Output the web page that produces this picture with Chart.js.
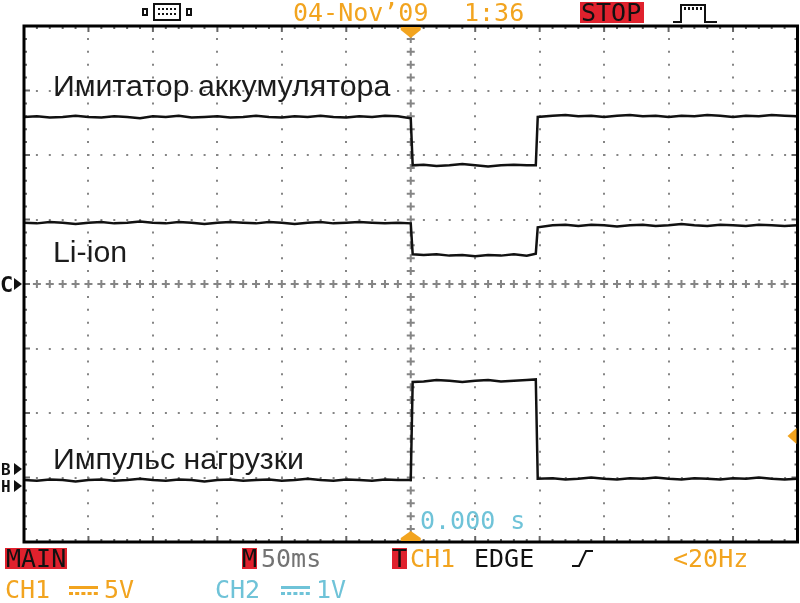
<!DOCTYPE html>
<html>
<head>
<meta charset="utf-8">
<script src="https://cdn.jsdelivr.net/npm/chart.js@4.4.0/dist/chart.umd.min.js"></script>
<style>
  html, body { margin: 0; padding: 0; background: #fff; }
  canvas { display: block; }
</style>
</head>
<body>
<canvas id="scope" width="800" height="603"></canvas>
<script>
// time axis: 50 ms/div, 12 div, trigger in the middle
const timeMin = -300;
const timeMax = 300;
const yMin = -4;
const yMax = 4;

// sample times (ms); duplicated edges give the step transitions
const times = [
  -300, -290, -280, -270, -260, -250, -240, -230, -220, -210,
  -200, -190, -180, -170, -160, -150, -140, -130, -120, -110,
  -100, -90, -80, -70, -60, -50, -40, -30, -20, -10, 0,
  1.5, 10, 20, 30, 40, 50, 60, 70, 80, 90, 97,
  98.5, 110, 120, 130, 140, 150, 160, 170, 180, 190,
  200, 210, 220, 230, 240, 250, 260, 270, 280, 290, 300
];

// trace levels in screen divisions from centre
const simulatorDiv = [
  2.59, 2.60, 2.58, 2.59, 2.61, 2.59, 2.58, 2.60, 2.59, 2.57,
  2.60, 2.59, 2.61, 2.58, 2.59, 2.60, 2.58, 2.59, 2.61, 2.59,
  2.58, 2.60, 2.59, 2.61, 2.59, 2.58, 2.60, 2.59, 2.61, 2.60, 2.57,
  1.84, 1.85, 1.83, 1.84, 1.86, 1.84, 1.82, 1.84, 1.85, 1.84, 1.84,
  2.59, 2.61, 2.62, 2.60, 2.61, 2.59, 2.61, 2.62, 2.60, 2.61,
  2.59, 2.61, 2.60, 2.62, 2.61, 2.59, 2.61, 2.60, 2.62, 2.61, 2.60
];
const liionDiv = [
  0.95, 0.94, 0.96, 0.95, 0.93, 0.95, 0.96, 0.94, 0.95, 0.97,
  0.95, 0.94, 0.96, 0.95, 0.93, 0.95, 0.96, 0.95, 0.94, 0.96,
  0.95, 0.93, 0.95, 0.96, 0.94, 0.95, 0.96, 0.95, 0.94, 0.95, 0.94,
  0.46, 0.45, 0.46, 0.44, 0.45, 0.43, 0.45, 0.44, 0.46, 0.44, 0.47,
  0.88, 0.91, 0.92, 0.90, 0.92, 0.91, 0.89, 0.91, 0.92, 0.90,
  0.91, 0.93, 0.91, 0.90, 0.92, 0.91, 0.90, 0.92, 0.91, 0.90, 0.91
];
const loadDiv = [
  -3.04, -3.05, -3.03, -3.04, -3.06, -3.04, -3.03, -3.05, -3.04, -3.02,
  -3.04, -3.05, -3.03, -3.04, -3.06, -3.04, -3.03, -3.05, -3.04, -3.03,
  -3.05, -3.04, -3.02, -3.04, -3.05, -3.03, -3.04, -3.05, -3.03, -3.04, -3.04,
  -1.52, -1.51, -1.49, -1.50, -1.52, -1.50, -1.49, -1.51, -1.50, -1.49, -1.48,
  -3.02, -3.01, -3.03, -3.02, -3.00, -3.02, -3.03, -3.01, -3.02, -3.00,
  -3.02, -3.03, -3.01, -3.02, -3.03, -3.01, -3.02, -3.00, -3.02, -3.03, -3.02
];

const traceLabels = ['Имитатор аккумулятора', 'Li-ion', 'Импульс нагрузки'];

const ORANGE = '#f2a41f';
const RED = '#e0212d';
const CYAN = '#6fc3d8';
const DOT = '#858585';
const MONO = "25px 'DejaVu Sans Mono', monospace";

function pts(vals) {
  return times.map((t, i) => ({ x: t, y: vals[i] }));
}

function gridColor(c) {
  const v = c.tick ? c.tick.value : 0;
  return (v === 0 || v === timeMin || v === timeMax || v === yMin || v === yMax) ? 'rgba(0,0,0,0)' : DOT;
}

function text(ctx, s, x, y, color, font) {
  ctx.fillStyle = color;
  ctx.font = font || MONO;
  ctx.textAlign = 'left';
  ctx.textBaseline = 'alphabetic';
  ctx.fillText(s, x, y);
}

function tri(ctx, p, color) {
  ctx.fillStyle = color;
  ctx.beginPath();
  ctx.moveTo(p[0], p[1]);
  for (let i = 2; i < p.length; i += 2) ctx.lineTo(p[i], p[i + 1]);
  ctx.closePath();
  ctx.fill();
}

function dcSymbol(ctx, x, y, color) {
  ctx.fillStyle = color;
  ctx.fillRect(x, y, 29, 3);
  for (let i = 0; i < 5; i++) ctx.fillRect(x + i * 6.2, y + 6, 4, 3);
}

const scopeDecor = {
  id: 'scopeDecor',
  beforeDatasetsDraw(chart) {
    const { ctx, chartArea: a, scales: { x, y } } = chart;
    const xc = x.getPixelForValue(0);
    const yc = y.getPixelForValue(0);
    ctx.save();
    // centre crosses
    ctx.strokeStyle = DOT;
    ctx.lineWidth = 2;
    ctx.beginPath();
    for (let k = 1; k < 40; k++) {
      const py = y.getPixelForValue(yMin + k * 0.2);
      ctx.moveTo(xc - 4, py); ctx.lineTo(xc + 4, py);
      ctx.moveTo(xc, py - 4); ctx.lineTo(xc, py + 4);
    }
    for (let k = 1; k < 60; k++) {
      const px = x.getPixelForValue(timeMin + k * 10);
      ctx.moveTo(px - 4, yc); ctx.lineTo(px + 4, yc);
      ctx.moveTo(px, yc - 4); ctx.lineTo(px, yc + 4);
    }
    ctx.stroke();
    // ticks on the frame
    ctx.strokeStyle = '#666';
    ctx.beginPath();
    for (let k = 1; k < 60; k++) {
      const px = x.getPixelForValue(timeMin + k * 10);
      const len = k % 5 === 0 ? 6 : 3;
      ctx.moveTo(px, a.top); ctx.lineTo(px, a.top + len);
      ctx.moveTo(px, a.bottom); ctx.lineTo(px, a.bottom - len);
    }
    for (let k = 1; k < 40; k++) {
      const py = y.getPixelForValue(yMin + k * 0.2);
      const len = k % 5 === 0 ? 6 : 3;
      ctx.moveTo(a.left, py); ctx.lineTo(a.left + len, py);
      ctx.moveTo(a.right, py); ctx.lineTo(a.right - len, py);
    }
    ctx.stroke();
    ctx.restore();
  },
  afterDraw(chart) {
    const { ctx, chartArea: a, scales: { x, y } } = chart;
    const xc = x.getPixelForValue(0);
    const yc = y.getPixelForValue(0);
    ctx.save();

    // frame
    ctx.strokeStyle = '#000';
    ctx.lineWidth = 3;
    ctx.strokeRect(a.left, a.top, a.right - a.left, a.bottom - a.top);

    // trace names
    const lf = "30.3px 'Liberation Sans', Arial, sans-serif";
    text(ctx, traceLabels[0], 53, 96, '#1c1c1c', lf);
    text(ctx, traceLabels[1], 53, 262, '#1c1c1c', lf);
    text(ctx, traceLabels[2], 53, 469, '#1c1c1c', lf);

    // trigger / position markers
    tri(ctx, [xc - 10, a.top + 1, xc + 10, a.top + 1, xc + 10, a.top + 4, xc, a.top + 12, xc - 10, a.top + 4], ORANGE);
    tri(ctx, [xc - 10, a.bottom - 1, xc + 10, a.bottom - 1, xc + 10, a.bottom - 4, xc, a.bottom - 11, xc - 10, a.bottom - 4], ORANGE);
    tri(ctx, [a.right - 1, 428, a.right - 1, 444, a.right - 10, 436], ORANGE);

    // channel markers on the left
    text(ctx, 'C', 0, yc + 8, '#111', "bold 22px 'DejaVu Sans Mono', monospace");
    tri(ctx, [14, yc - 6, 22, yc, 14, yc + 6], '#111');
    const mf = "bold 16px 'DejaVu Sans Mono', monospace";
    text(ctx, 'B', 1, 475, '#111', mf);
    tri(ctx, [14, 463, 22, 469, 14, 475], '#111');
    text(ctx, 'H', 1, 492, '#111', mf);
    tri(ctx, [14, 480, 22, 486, 14, 492], '#111');

    // trigger time readout
    text(ctx, '0.000 s', 420, 529, CYAN);

    // top status line
    ctx.strokeStyle = '#111';
    ctx.lineWidth = 2;
    ctx.strokeRect(143, 9, 4, 6);
    ctx.strokeRect(187, 9, 4, 6);
    ctx.strokeRect(154, 4, 26, 16);
    ctx.fillStyle = '#111';
    for (let i = 0; i < 5; i++) {
      ctx.fillRect(158 + i * 4, 8, 2, 2);
      ctx.fillRect(158 + i * 4, 13, 2, 2);
    }
    text(ctx, '04-Nov\u201909', 293, 21, ORANGE);
    text(ctx, '1:36', 464, 21, ORANGE);
    ctx.fillStyle = RED;
    ctx.fillRect(580, 2, 64, 21);
    text(ctx, 'STOP', 581, 21, '#111');
    ctx.strokeStyle = '#111';
    ctx.lineWidth = 2;
    ctx.beginPath();
    ctx.moveTo(673, 22); ctx.lineTo(681, 22); ctx.lineTo(681, 5);
    ctx.lineTo(705, 5); ctx.lineTo(705, 22); ctx.lineTo(717, 22);
    ctx.stroke();
    ctx.fillStyle = '#111';
    for (let i = 0; i < 6; i++) ctx.fillRect(684 + i * 4, 7, 2, 3);

    // bottom status line
    ctx.fillStyle = RED;
    ctx.fillRect(5, 548, 62, 21);
    text(ctx, 'MAIN', 6, 567, '#111');
    ctx.fillStyle = RED;
    ctx.fillRect(242, 548, 15, 21);
    text(ctx, 'M', 242, 567, '#111');
    text(ctx, '50ms', 261, 567, '#737373');
    ctx.fillStyle = RED;
    ctx.fillRect(392, 548, 15, 21);
    text(ctx, 'T', 392, 567, '#111');
    text(ctx, 'CH1', 410, 567, ORANGE);
    text(ctx, 'EDGE', 474, 567, '#111');
    ctx.strokeStyle = '#111';
    ctx.lineWidth = 2;
    ctx.beginPath();
    ctx.moveTo(572, 566); ctx.lineTo(579, 566); ctx.lineTo(586, 551); ctx.lineTo(593, 551);
    ctx.stroke();
    text(ctx, '<20Hz', 673, 567, ORANGE);

    text(ctx, 'CH1', 5, 598, ORANGE);
    dcSymbol(ctx, 69, 586, ORANGE);
    text(ctx, '5V', 104, 598, ORANGE);
    text(ctx, 'CH2', 215, 598, CYAN);
    dcSymbol(ctx, 281, 586, CYAN);
    text(ctx, '1V', 316, 598, CYAN);

    ctx.restore();
  }
};

const traceStyle = {
  borderColor: '#111',
  borderWidth: 2.5,
  pointRadius: 0,
  tension: 0,
  fill: false
};

const scopeChart = new Chart(document.getElementById('scope').getContext('2d'), {
  type: 'line',
  data: {
    datasets: [
      Object.assign({ label: traceLabels[0], data: pts(simulatorDiv) }, traceStyle),
      Object.assign({ label: traceLabels[1], data: pts(liionDiv) }, traceStyle),
      Object.assign({ label: traceLabels[2], data: pts(loadDiv) }, traceStyle)
    ]
  },
  options: {
    responsive: false,
    animation: false,
    devicePixelRatio: 1,
    layout: { padding: { left: 24, right: 2.5, top: 26, bottom: 61 } },
    plugins: {
      legend: { display: false },
      tooltip: { enabled: false }
    },
    scales: {
      x: {
        type: 'linear',
        min: timeMin,
        max: timeMax,
        ticks: { display: false, stepSize: 50 },
        grid: { color: gridColor, lineWidth: 2, drawTicks: false },
        border: { display: false, dash: [2, 10.9], dashOffset: 1 }
      },
      y: {
        min: yMin,
        max: yMax,
        ticks: { display: false, stepSize: 1 },
        grid: { color: gridColor, lineWidth: 2, drawTicks: false },
        border: { display: false, dash: [2, 10.9], dashOffset: 1 }
      }
    }
  },
  plugins: [scopeDecor]
});
</script>
</body>
</html>
